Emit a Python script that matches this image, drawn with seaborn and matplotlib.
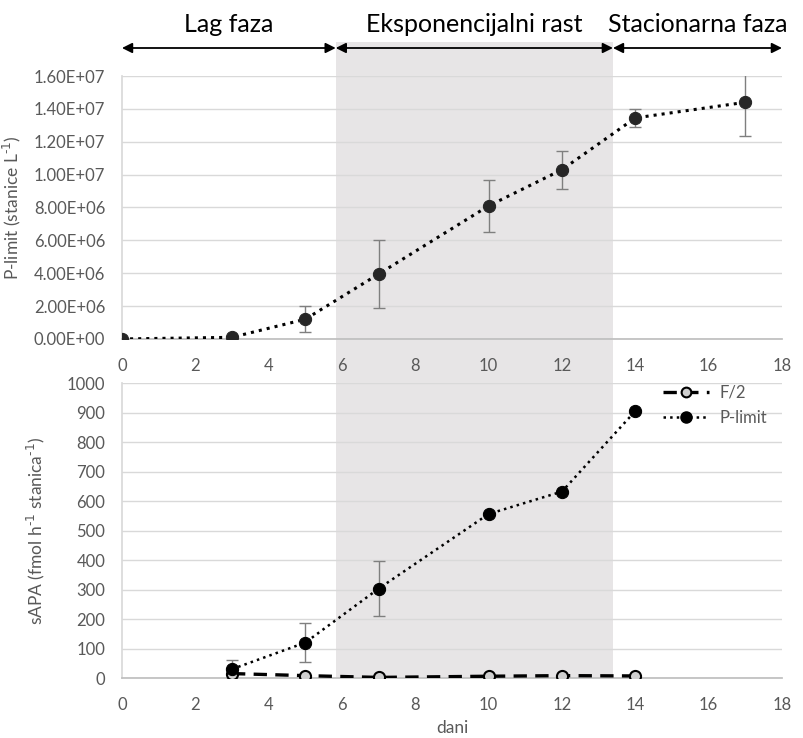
import numpy as np
import pandas as pd
import matplotlib
matplotlib.use("Agg")
import matplotlib.pyplot as plt
import seaborn as sns
from matplotlib.ticker import FuncFormatter, MultipleLocator
from matplotlib.transforms import blended_transform_factory
from matplotlib.patches import Rectangle, FancyArrowPatch
from matplotlib.lines import Line2D

# ---- data ----
days_top = [0, 3, 5, 7, 10, 12, 14, 17]
plimit_cells = [0.0, 1.0e5, 1.2e6, 3.95e6, 8.1e6, 1.03e7, 1.345e7, 1.44e7]
plimit_cells_err = [0.0, 0.0, 0.8e6, 2.05e6, 1.6e6, 1.15e6, 0.55e6, 2.05e6]

days_bot = [3, 5, 7, 10, 12, 14]
f2_sapa = [15, 8, 2, 6, 8, 7]
plimit_sapa = [30, 120, 303, 556, 632, 905]
plimit_sapa_err = [30, 65, 93, 0, 0, 0]

phase_labels = ["Lag faza", "Eksponencijalni rast", "Stacionarna faza"]
phase_bounds = [0, 5.83, 13.39, 18]

sns.set_theme(style="white")
plt.rcParams['font.family'] = ['Lato', 'DejaVu Sans']

gray_txt = "#595959"
fig = plt.figure(figsize=(8.04, 7.38), dpi=100)
ax1 = fig.add_axes([0.1517, 0.5407, 0.8209, 0.3563])
ax2 = fig.add_axes([0.1517, 0.0813, 0.8209, 0.3997])

for ax in (ax1, ax2):
    ax.set_facecolor("none")
    ax.set_xlim(0, 18)
    ax.xaxis.set_major_locator(MultipleLocator(2))
    ax.grid(axis="y", color="#d9d9d9", lw=1)
    ax.grid(axis="x", visible=False)
    for s in ("top", "right"):
        ax.spines[s].set_visible(False)
    ax.spines["left"].set_color("#d9d9d9")
    ax.spines["bottom"].set_color("#bfbfbf")
    ax.tick_params(axis="both", colors=gray_txt, labelsize=12, length=0)
    ax.tick_params(axis="x", pad=14)
    ax.tick_params(axis="y", pad=12)

# ---- top panel ----
df_top = pd.DataFrame({"dan": days_top, "v": plimit_cells})
ax1.errorbar(days_top, plimit_cells, yerr=plimit_cells_err, fmt="none",
             ecolor="#7f7f7f", elinewidth=1, capsize=4, capthick=1, zorder=2)
sns.lineplot(data=df_top, x="dan", y="v", ax=ax1, color="black", linestyle=":",
             lw=2.2, marker="o", markersize=8.8, markerfacecolor="#262626",
             markeredgecolor="#262626", zorder=3)
ax1.set_ylim(0, 1.6e7)
ax1.yaxis.set_major_locator(MultipleLocator(2e6))
ax1.yaxis.set_major_formatter(FuncFormatter(lambda v, p: f"{v:.2E}"))
ax1.set_xlabel("")
ax1.set_ylabel("P-limit (stanice L$^{\\text{-}1}$)", color=gray_txt, fontsize=12.5, labelpad=8)
ax1.margins(x=0)

# ---- bottom panel ----
df_bot = pd.DataFrame({"dan": days_bot, "f2": f2_sapa, "pl": plimit_sapa})
ax2.errorbar(days_bot, plimit_sapa, yerr=plimit_sapa_err, fmt="none",
             ecolor="#7f7f7f", elinewidth=1, capsize=4, capthick=1, zorder=2)
sns.lineplot(data=df_bot, x="dan", y="f2", ax=ax2, color="black", linestyle=(0, (4, 2.5)),
             lw=2.4, marker="o", markersize=8, markerfacecolor="#d0d0d0",
             markeredgecolor="black", markeredgewidth=1.5, zorder=3)
sns.lineplot(data=df_bot, x="dan", y="pl", ax=ax2, color="black", linestyle=":",
             lw=1.8, marker="o", markersize=8.8, markerfacecolor="black",
             markeredgecolor="black", zorder=4)
ax2.set_ylim(0, 1000)
ax2.yaxis.set_major_locator(MultipleLocator(100))
ax2.set_xlabel("dani", color=gray_txt, fontsize=12.5, labelpad=5)
ax2.set_ylabel("sAPA (fmol h$^{\\text{-}1}$ stanica$^{\\text{-}1}$)", color=gray_txt,
               fontsize=12.5, labelpad=14)

handles = [
    Line2D([], [], color="black", linestyle=(0, (4, 2.5)), lw=2.4, marker="o",
           markersize=7, markerfacecolor="#d0d0d0", markeredgecolor="black", markeredgewidth=1.5),
    Line2D([], [], color="black", linestyle=":", lw=1.8, marker="o",
           markersize=8, markerfacecolor="black", markeredgecolor="black"),
]
leg = ax2.legend(handles, ["F/2", "P-limit"], loc="upper right", bbox_to_anchor=(1.0, 1.045),
                 frameon=False, fontsize=12, handlelength=2.8, handletextpad=0.6,
                 labelspacing=0.55)
for t in leg.get_texts():
    t.set_color(gray_txt)

# ---- shaded exponential phase spanning both panels ----
tr = blended_transform_factory(ax1.transData, fig.transFigure)
x0, x1 = phase_bounds[1], phase_bounds[2]
rect = Rectangle((x0, 1 - 678 / 738), x1 - x0, (678 - 42) / 738, transform=tr,
                 facecolor="#e7e5e6", edgecolor="none", zorder=-1)
fig.patches.append(rect)

# ---- phase arrows and labels ----
y_arrow = 1 - 48 / 738
y_text = 1 - 24 / 738
for i, lab in enumerate(phase_labels):
    a, b = phase_bounds[i], phase_bounds[i + 1]
    fig.add_artist(FancyArrowPatch(
        (a, y_arrow), (b, y_arrow), transform=tr, arrowstyle="<|-|>",
        mutation_scale=15, color="black", lw=1.3, shrinkA=0, shrinkB=0))
    fig.text((a + b) / 2, y_text, lab, transform=tr, ha="center", va="center",
             fontsize=18, color="black")

fig.savefig("out.png", dpi=100)
